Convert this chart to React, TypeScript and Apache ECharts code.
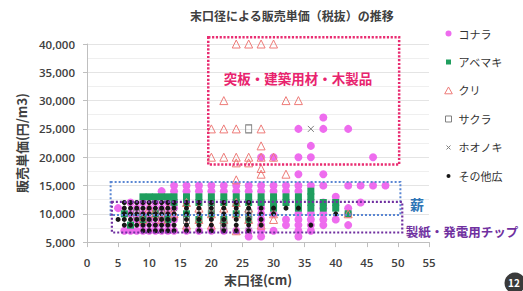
import { useEffect, useRef } from 'react';
import * as echarts from 'echarts';

const TITLE = '末口径による販売単価（税抜）の推移';
const X_NAME = '末口径(cm)';
const Y_NAME = '販売単価(円/m3)';
const SERIES_NAMES = ['コナラ', 'アベマキ', 'クリ', 'サクラ', 'ホオノキ', 'その他広'];

// [diameter (cm), [unit prices (yen/m3)]]
const konaraCols: [number, number[]][] = [
  [5, [11000]],
  [6, [7000]],
  [7, [12000, 10000, 8000, 7000]],
  [8, [11000, 9000, 7000]],
  [9, [12000, 10000, 8000, 7000]],
  [10, [11000, 9000, 7000]],
  [11, [12000, 10000, 8000, 7000]],
  [12, [14000, 11000, 9000, 7000]],
  [13, [12000, 10000, 8000, 7000]],
  [14, [15000, 14000, 11000, 9000, 7000]],
  [16, [15000, 14000, 7000]],
  [18, [15000, 14000, 7000]],
  [20, [15000, 14000, 7000]],
  [22, [15000, 14000, 7000]],
  [24, [15000, 14000, 7000]],
  [26, [15000, 14000, 7000, 6000]],
  [28, [20000, 15000, 14000, 12000, 11000, 10000, 9000, 8000, 7000, 6000]],
  [30, [20000, 15000, 14000, 10000, 7000]],
  [32, [15000, 14000, 9000, 8000]],
  [34, [25000, 20000, 17000, 15000, 14000, 10000, 9000, 8000, 7000, 6000]],
  [36, [22000, 20000, 15000, 10000, 9000, 8000, 7000]],
  [38, [27000, 25000, 17000, 15000, 12000, 11000, 10000, 9000, 8000]],
  [40, [13000, 9000]],
  [42, [25000, 15000, 11000, 10000, 8000]],
  [44, [15000, 12000]],
  [46, [20000, 15000]],
  [48, [15000]],
];

const abemakiCols: [number, number[]][] = [
  [6, [10000]],
  [7, [8000]],
  [9, [13000, 9000]],
  [10, [13000]],
  [11, [13000, 10000]],
  [12, [13000]],
  [13, [13000, 9000]],
  [14, [13000, 12000]],
  [16, [13000, 12000, 10000]],
  [18, [13000, 12000, 9000]],
  [20, [13000, 12000, 10000]],
  [22, [13000, 12000, 9000]],
  [24, [13000, 12000, 10000]],
  [26, [13000, 12000, 9000]],
  [28, [13000, 12000]],
  [30, [13000, 12000, 11000]],
  [32, [13000, 12000]],
  [34, [13000, 12000, 11000]],
  [36, [14000, 13000, 12000, 11000]],
  [38, [12000, 11000]],
  [40, [12000, 11000]],
  [42, [10000]],
];

const kuriCols: [number, number[]][] = [
  [9, [9000]],
  [10, [11000]],
  [11, [10000]],
  [12, [9000]],
  [13, [11000]],
  [14, [10000]],
  [16, [12000, 8000]],
  [18, [9000, 11000]],
  [20, [25000, 20000, 10000, 8000]],
  [22, [30000, 25000, 20000, 11000, 9000]],
  [24, [40000, 25000, 20000, 19000, 16000, 12000, 10000, 7000]],
  [26, [40000, 20000, 19000, 11000, 9000]],
  [28, [40000, 25000, 22000, 20000, 18000, 17000, 8000]],
  [30, [40000, 20000, 10000, 9000]],
  [32, [30000, 17000]],
  [34, [30000]],
  [42, [10000]],
];

const sakuraCols: [number, number[]][] = [
  [8, [10000]],
  [12, [10000]],
  [16, [9000]],
  [20, [11000]],
  [22, [8000]],
  [26, [25000, 10000]],
];

const hoonokiCols: [number, number[]][] = [
  [10, [9000]],
  [14, [11000]],
  [26, [7000]],
  [36, [25000]],
];

const sonotaCols: [number, number[]][] = [
  [5, [9000]],
  [6, [12000, 11000, 10000, 9000, 8000]],
  [7, [12000, 11000, 10000, 9000, 8000]],
  [8, [12000, 11000, 10000, 9000, 8000]],
  [9, [12000, 11000, 10000, 9000, 8000, 7000]],
  [10, [12000, 11000, 10000, 9000, 8000, 7000]],
  [11, [12000, 11000, 10000, 9000, 8000, 7000]],
  [12, [12000, 11000, 10000, 9000, 8000, 7000]],
  [13, [12000, 11000, 10000, 9000, 8000, 7000]],
  [14, [12000, 11000, 10000, 9000, 8000, 7000]],
  [16, [12000, 11000, 10000, 9000, 8000, 7000]],
  [18, [12000, 11000, 10000, 9000, 8000, 7000]],
  [20, [12000, 11000, 10000, 9000, 8000, 7000]],
  [22, [12000, 11000, 10000, 9000, 8000, 7000]],
  [24, [12000, 11000, 10000, 9000, 8000, 7000]],
  [26, [12000, 11000, 10000, 9000, 8000, 7000]],
  [28, [11000, 10000, 9000, 8000]],
  [30, [11000, 10000]],
  [32, [11000]],
  [34, [11000]],
  [36, [8000]],
  [40, [10000]],
];

// annotation regions in data units: [xFrom, xTo, yFrom, yTo]
const woodRegion = [19.5, 50.2, 18700, 41200];
const fuelRegion = [3.8, 50.4, 9800, 15600];
const chipRegion = [4.0, 50.7, 6700, 12100];

const WOOD_LABEL = '突板・建築用材・木製品';
const FUEL_LABEL = '薪';
const CHIP_LABEL = '製紙・発電用チップ';
const PAGE_NO = '12';

const toPairs = (cols: [number, number[]][]) =>
  cols.flatMap(([x, ys]) => ys.map((y) => [x, y]));

const fmt = (v: number) => String(v).replace(/\B(?=(\d{3})+(?!\d))/g, ',');

export default function App() {
  const ref = useRef<HTMLDivElement>(null);
  useEffect(() => {
    const el = ref.current!;
    const chart = echarts.init(el, undefined, { renderer: 'svg' });
    const jp = "'Noto Sans CJK JP', sans-serif";
    const num = "'Open Sans', 'Noto Sans', sans-serif";
    const axisGray = '#bfbfbf';

    const pink = '#ee6cee';
    const green = '#1f9e5e';
    const salmon = '#ee7b78';
    const gray = '#7f7f7f';
    const black = '#161616';

    const legendIcons = [
      'path://M0,0M10,10M2,5A3,3,0,1,1,8,5A3,3,0,1,1,2,5Z',
      'path://M0,0M10,10M2.5,2.5H7.5V7.5H2.5Z',
      'path://M0,0M10,10M5,1.5L8.8,8.3H1.2Z',
      'path://M0,0M10,10M2,2H8V8H2Z',
      'path://M0,0M10,10M3,3L7,7M7,3L3,7',
      'path://M0,0M10,10M3,5A2,2,0,1,1,7,5A2,2,0,1,1,3,5Z',
    ];
    const legendStyles = [
      { color: pink },
      { color: green },
      { color: 'transparent', borderColor: salmon, borderWidth: 1 },
      { color: 'transparent', borderColor: gray, borderWidth: 1 },
      { color: 'transparent', borderColor: gray, borderWidth: 1 },
      { color: black },
    ];

    chart.setOption({
      animation: false,
      backgroundColor: '#ffffff',
      title: {
        text: TITLE,
        left: 190,
        top: 9,
        padding: 0,
        textStyle: { fontFamily: jp, fontSize: 12, fontWeight: 'bold', color: '#404040' },
      },
      legend: {
        orient: 'vertical',
        left: 443,
        top: 28,
        padding: 0,
        itemWidth: 10,
        itemHeight: 10,
        itemGap: 17.5,
        textStyle: { fontFamily: jp, fontSize: 11, color: '#333333' },
        data: SERIES_NAMES.map((n, i) => ({ name: n, icon: legendIcons[i], itemStyle: legendStyles[i] })),
      },
      grid: { left: 87, right: 94, top: 44, bottom: 36 },
      xAxis: {
        type: 'value',
        min: 0,
        max: 55,
        interval: 5,
        name: X_NAME,
        nameLocation: 'middle',
        nameGap: 26,
        nameTextStyle: { fontFamily: jp, fontSize: 13, fontWeight: 'bold', color: '#404040' },
        axisLine: { show: true, lineStyle: { color: axisGray } },
        axisTick: { show: true, length: 5, lineStyle: { color: axisGray } },
        axisLabel: { margin: 14, fontFamily: num, fontSize: 11.5, fontWeight: 600, color: '#404040' },
        splitLine: { show: false },
      },
      yAxis: {
        type: 'value',
        min: 5000,
        max: 40000,
        interval: 5000,
        name: Y_NAME,
        nameLocation: 'middle',
        nameGap: 57,
        nameTextStyle: { fontFamily: jp, fontSize: 13, fontWeight: 'bold', color: '#404040' },
        axisLine: { show: true, lineStyle: { color: axisGray } },
        axisTick: { show: true, length: 4, lineStyle: { color: axisGray } },
        axisLabel: {
          margin: 12,
          fontFamily: num,
          fontSize: 11.5,
          fontWeight: 600,
          color: '#404040',
          formatter: (v: number) => fmt(v),
        },
        splitLine: { show: true, lineStyle: { color: '#e4e4e4' } },
        minorTick: { show: false, splitNumber: 2 },
        minorSplitLine: { show: true, lineStyle: { color: '#efefef' } },
      },
      series: [
        {
          name: SERIES_NAMES[0],
          type: 'scatter',
          symbol: 'circle',
          symbolSize: 8,
          itemStyle: { color: pink, opacity: 1 },
          data: toPairs(konaraCols),
        },
        {
          name: SERIES_NAMES[1],
          type: 'scatter',
          symbol: 'rect',
          symbolSize: 7,
          itemStyle: { color: green, opacity: 1 },
          data: toPairs(abemakiCols),
        },
        {
          name: SERIES_NAMES[2],
          type: 'scatter',
          symbol: 'triangle',
          symbolSize: 8,
          itemStyle: { color: 'transparent', borderColor: salmon, borderWidth: 1, opacity: 1 },
          data: toPairs(kuriCols),
        },
        {
          name: SERIES_NAMES[3],
          type: 'scatter',
          symbol: 'rect',
          symbolSize: [6, 8],
          itemStyle: { color: 'transparent', borderColor: gray, borderWidth: 1, opacity: 1 },
          data: toPairs(sakuraCols),
        },
        {
          name: SERIES_NAMES[4],
          type: 'scatter',
          symbol: 'path://M0,0L10,10M10,0L0,10',
          symbolSize: 6,
          itemStyle: { color: 'transparent', borderColor: gray, borderWidth: 1, opacity: 1 },
          data: toPairs(hoonokiCols),
        },
        {
          name: SERIES_NAMES[5],
          type: 'scatter',
          symbol: 'circle',
          symbolSize: 5,
          itemStyle: { color: black, opacity: 1 },
          data: toPairs(sonotaCols),
        },
      ],
    });

    const box = (r: number[], stroke: string, lw: number, dash: number[]) => {
      const p1 = chart.convertToPixel({ gridIndex: 0 }, [r[0], r[3]]) as number[];
      const p2 = chart.convertToPixel({ gridIndex: 0 }, [r[1], r[2]]) as number[];
      return {
        type: 'rect',
        z: 10,
        silent: true,
        shape: { x: p1[0], y: p1[1], width: p2[0] - p1[0], height: p2[1] - p1[1] },
        style: { fill: 'none', stroke, lineWidth: lw, lineDash: dash },
      };
    };
    const label = (text: string, x: number, y: number, fill: string, size: number) => ({
      type: 'text',
      z: 11,
      silent: true,
      x,
      y,
      style: {
        text,
        fill,
        align: 'center',
        verticalAlign: 'middle',
        textAlign: 'center',
        textVerticalAlign: 'middle',
        fontFamily: jp,
        fontSize: size,
        fontWeight: 'bold',
      },
    });

    chart.setOption({
      graphic: [
        box(woodRegion, '#e92d72', 2.5, [2.2, 1.6]),
        box(fuelRegion, '#5b87d3', 2, [2, 2]),
        box(chipRegion, '#7030a0', 2.2, [2, 2]),
        label(WOOD_LABEL, 298, 78, '#e8246e', 13.5),
        label(FUEL_LABEL, 417, 204, '#2e75b6', 14),
        label(CHIP_LABEL, 462, 231, '#7030a0', 12.5),
        { type: 'circle', z: 11, silent: true, shape: { cx: 515, cy: 283, r: 10.5 }, style: { fill: '#3a3a3a' } },
        label(PAGE_NO, 514, 282, '#ffffff', 10),
      ],
    });

    return () => chart.dispose();
  }, []);
  return <div ref={ref} style={{ width: 523, height: 291, position: 'absolute', left: 0, top: 0 }} />;
}
